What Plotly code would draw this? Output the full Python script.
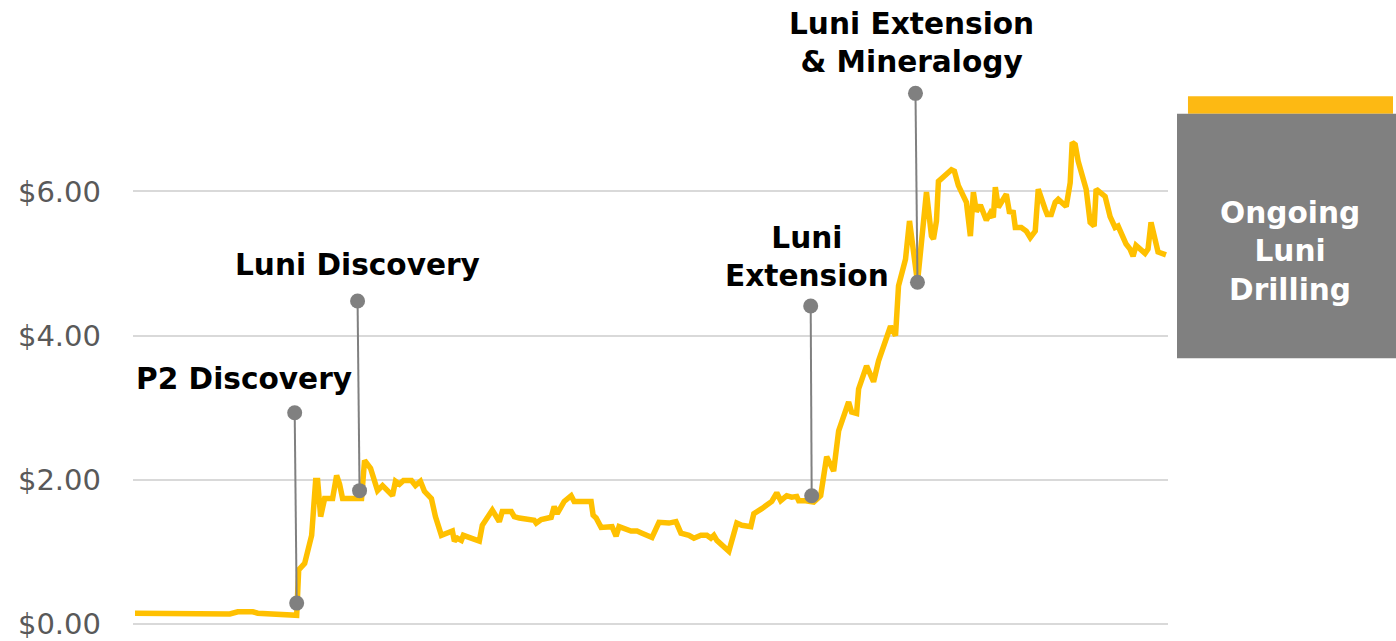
import plotly.graph_objects as go

# Day index (t) and share price (USD)
days = [0, 25, 45, 95, 103, 118, 123, 155, 162, 164, 170, 177, 181, 183, 186, 190, 198, 202, 205, 208,
        227, 230, 236, 243, 248, 258, 261, 265, 269, 277, 281, 286, 290, 297, 301, 307, 313, 318, 320, 323,
        327, 329, 345, 348, 358, 365, 368, 377, 380, 385, 400, 402, 407, 417, 420, 423, 430, 437, 440, 457,
        459, 462, 467, 478, 482, 485, 497, 503, 508, 518, 525, 535, 542, 547, 555, 560, 567, 573, 577, 580,
        583, 588, 595, 603, 608, 617, 620, 628, 638, 643, 647, 653, 658, 663, 665, 672, 680, 687, 693, 700,
        705, 715, 718, 723, 725, 733, 740, 745, 757, 762, 765, 772, 776, 784, 793, 798, 800, 803, 805, 818,
        821, 825, 833, 837, 840, 843, 847, 853, 857, 860, 862, 865, 873, 876, 880, 882, 888, 893, 897, 902,
        905, 912, 914, 918, 922, 925, 933, 937, 939, 942, 945, 953, 957, 961, 963, 972, 977, 982, 985, 993,
        997, 1000, 1003, 1012, 1015, 1018, 1022, 1025, 1033]
price = [0.15, 0.15, 0.14, 0.14, 0.17, 0.17, 0.15, 0.11, 0.12, 0.75, 0.84, 1.23, 1.99, 1.99, 1.49, 1.74, 1.74, 2.06, 1.94, 1.74,
         1.74, 2.27, 2.16, 1.85, 1.92, 1.78, 1.98, 1.94, 1.99, 1.99, 1.92, 1.98, 1.84, 1.74, 1.49, 1.23, 1.26, 1.29, 1.15, 1.19,
         1.16, 1.23, 1.15, 1.37, 1.58, 1.42, 1.56, 1.56, 1.49, 1.47, 1.44, 1.40, 1.45, 1.48, 1.63, 1.53, 1.70, 1.78, 1.70, 1.70,
         1.51, 1.47, 1.34, 1.35, 1.22, 1.35, 1.29, 1.29, 1.26, 1.20, 1.41, 1.40, 1.42, 1.26, 1.23, 1.19, 1.23, 1.23, 1.19, 1.23,
         1.16, 1.09, 1.01, 1.40, 1.37, 1.35, 1.53, 1.60, 1.70, 1.82, 1.71, 1.78, 1.76, 1.77, 1.71, 1.71, 1.69, 1.78, 2.32, 2.12,
         2.68, 3.08, 2.94, 2.92, 3.26, 3.58, 3.36, 3.65, 4.13, 4.00, 4.69, 5.06, 5.59, 4.74, 5.99, 5.38, 5.34, 5.59, 6.14, 6.30,
         6.28, 6.08, 5.85, 5.38, 5.99, 5.72, 5.81, 5.60, 5.70, 5.64, 6.06, 5.78, 5.96, 5.72, 5.71, 5.50, 5.50, 5.45, 5.36, 5.45,
         6.03, 5.75, 5.68, 5.68, 5.85, 5.89, 5.79, 6.12, 6.68, 6.65, 6.42, 6.03, 5.57, 5.52, 6.03, 5.93, 5.65, 5.50, 5.52, 5.27,
         5.20, 5.10, 5.25, 5.14, 5.20, 5.57, 5.34, 5.16, 5.12]

# Event callouts
event_labels = ["P2 Discovery", "Luni Discovery", "Luni<br>Extension", "Luni Extension<br>& Mineralogy"]
event_day_bottom = [162, 225, 678, 784]
event_price_bottom = [0.29, 1.85, 1.78, 4.74]
event_day_top = [160, 223, 677, 782]
event_price_top = [2.93, 4.48, 4.41, 7.36]
label_day = [109, 223, 673, 778]
label_price = [3.40, 4.98, 5.09, 8.06]

tick_vals = [0, 2, 4, 6]
tick_text = ["$0.00", "$2.00", "$4.00", "$6.00"]

box_text = "Ongoing<br>Luni<br>Drilling"

GOLD = "#FFC000"
GREY = "#808080"
FONT = "DejaVu Sans"

fig = go.Figure()
fig.add_trace(go.Scatter(x=days, y=price, mode="lines",
                         line=dict(color=GOLD, width=5.5), hoverinfo="skip"))

for i in range(len(event_labels)):
    fig.add_trace(go.Scatter(x=[event_day_top[i], event_day_bottom[i]],
                             y=[event_price_top[i], event_price_bottom[i]],
                             mode="lines+markers",
                             line=dict(color=GREY, width=2),
                             marker=dict(color=GREY, size=15),
                             hoverinfo="skip"))
    fig.add_annotation(x=label_day[i], y=label_price[i], text="<b>%s</b>" % event_labels[i],
                       showarrow=False, xanchor="center", yanchor="middle",
                       font=dict(family=FONT, size=29.6, color="#000000"))

# Right-side box
fig.add_shape(type="rect", xref="paper", yref="paper", x0=1.0193, x1=1.2174, y0=0.819, y1=0.847,
              fillcolor="#FDB913", line=dict(width=0), layer="above")
fig.add_shape(type="rect", xref="paper", yref="paper", x0=1.0087, x1=1.2203, y0=0.4306, y1=0.819,
              fillcolor=GREY, line=dict(width=0), layer="above")
fig.add_annotation(xref="paper", yref="paper", x=1.1179, y=0.6006, text="<b>%s</b>" % box_text,
                   showarrow=False, xanchor="center", yanchor="middle",
                   font=dict(family=FONT, size=29.6, color="#FFFFFF"))

fig.update_layout(
    width=1396, height=641,
    margin=dict(l=133, r=228, t=0, b=10),
    paper_bgcolor="white", plot_bgcolor="white",
    showlegend=False,
    xaxis=dict(range=[-2, 1035], visible=False, fixedrange=True),
    yaxis=dict(range=[-5 / 72.33, 626 / 72.33], tickvals=tick_vals, ticktext=tick_text,
               showgrid=True, gridcolor="#D9D9D9", gridwidth=2, zeroline=False,
               showline=False, ticks="", ticklabelstandoff=31, ticklabeloverflow="allow",
               fixedrange=True,
               tickfont=dict(family=FONT, size=29, color="#595959")),
)

fig.write_html("out.html", config={"displayModeBar": False},
               post_script="document.body.style.margin='0';")
